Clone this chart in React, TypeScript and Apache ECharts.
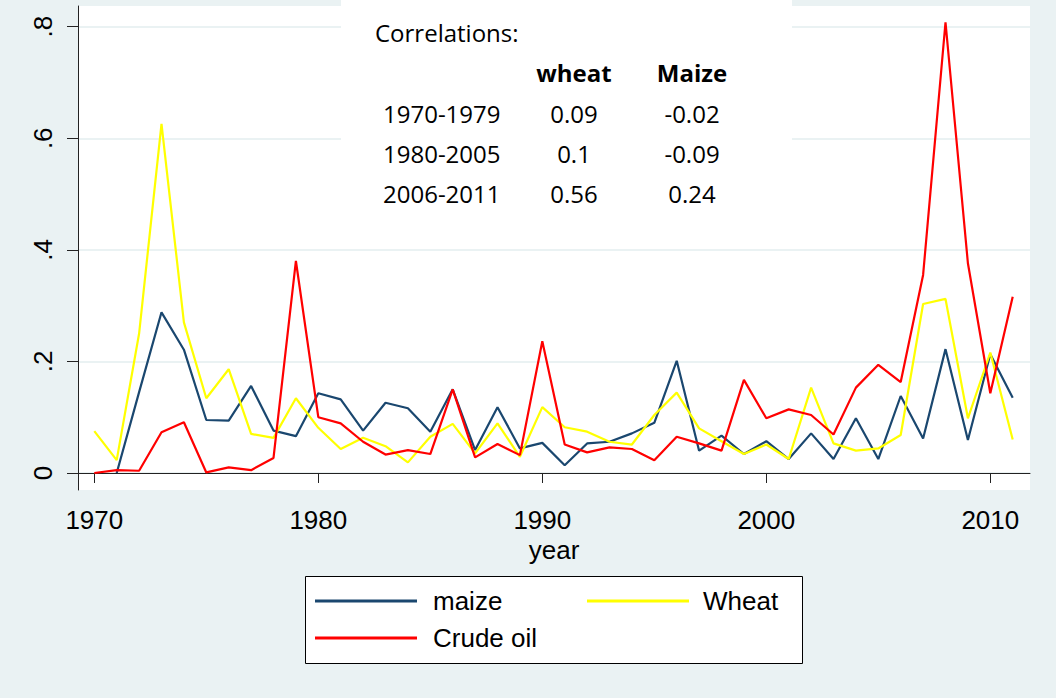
import React, { useEffect, useRef } from "react";
import * as echarts from "echarts";

const years: number[] = [
  1970, 1971, 1972, 1973, 1974, 1975, 1976, 1977, 1978, 1979,
  1980, 1981, 1982, 1983, 1984, 1985, 1986, 1987, 1988, 1989,
  1990, 1991, 1992, 1993, 1994, 1995, 1996, 1997, 1998, 1999,
  2000, 2001, 2002, 2003, 2004, 2005, 2006, 2007, 2008, 2009,
  2010, 2011,
];

const maize: (number | null)[] = [
  null, 0.0, 0.145, 0.288, 0.221, 0.095, 0.094, 0.156, 0.076, 0.066,
  0.143, 0.132, 0.076, 0.126, 0.116, 0.074, 0.15, 0.041, 0.118, 0.044,
  0.054, 0.014, 0.053, 0.056, 0.071, 0.09, 0.201, 0.04, 0.067, 0.034,
  0.057, 0.025, 0.071, 0.025, 0.098, 0.025, 0.138, 0.062, 0.222, 0.059,
  0.213, 0.135,
];

const wheat: number[] = [
  0.075, 0.023, 0.25, 0.626, 0.27, 0.134, 0.186, 0.07, 0.063, 0.134,
  0.081, 0.043, 0.063, 0.048, 0.019, 0.065, 0.088, 0.035, 0.089, 0.029,
  0.118, 0.082, 0.074, 0.056, 0.051, 0.104, 0.144, 0.08, 0.057, 0.034,
  0.051, 0.025, 0.153, 0.053, 0.04, 0.044, 0.068, 0.303, 0.312, 0.098,
  0.216, 0.06,
];

const crudeOil: number[] = [
  0.0, 0.005, 0.004, 0.073, 0.091, 0.001, 0.01, 0.005, 0.027, 0.38,
  0.1, 0.089, 0.056, 0.033, 0.041, 0.034, 0.15, 0.028, 0.052, 0.032,
  0.236, 0.051, 0.037, 0.046, 0.043, 0.023, 0.065, 0.053, 0.04, 0.167,
  0.098, 0.114, 0.104, 0.069, 0.153, 0.194, 0.163, 0.355, 0.808, 0.376,
  0.143, 0.316,
];

const xTicks: number[] = [1970, 1980, 1990, 2000, 2010];
const yTicks: number[] = [0, 0.2, 0.4, 0.6, 0.8];
const yTickLabels: string[] = ["0", ".2", ".4", ".6", ".8"];

const corrTitle = "Correlations:";
const corrHeaders: string[] = ["wheat", "Maize"];
const corrPeriods: string[] = ["1970-1979", "1980-2005", "2006-2011"];
const corrWheat: string[] = ["0.09", "0.1", "0.56"];
const corrMaize: string[] = ["-0.02", "-0.09", "0.24"];

const BG = "#eaf2f3";
const NAVY = "#1a476f";
const YELLOW = "#ffff00";
const RED = "#ff0000";
const SANS = "'Liberation Sans', Arial, sans-serif";
const CORR_FONT = "'Open Sans', 'Noto Sans', sans-serif";

export default function App() {
  const ref = useRef<HTMLDivElement>(null);

  useEffect(() => {
    if (!ref.current) return;
    const chart = echarts.init(ref.current, null, { renderer: "svg" });

    const pair = (arr: (number | null)[]) =>
      years.map((y, i) => [y, arr[i] === null ? "-" : arr[i]]);

    const rowY = [113, 153, 193];
    const corrTexts: any[] = [];
    corrTexts.push({
      type: "text",
      x: 375,
      y: 32,
      z: 101,
      style: { text: corrTitle, fill: "#000", font: `24px ${CORR_FONT}`, align: "left", verticalAlign: "middle" },
    });
    corrHeaders.forEach((h, i) => {
      corrTexts.push({
        type: "text",
        x: i === 0 ? 574 : 692,
        y: 72,
        z: 101,
        style: { text: h, fill: "#000", font: `bold 24px ${CORR_FONT}`, align: "center", verticalAlign: "middle" },
      });
    });
    corrPeriods.forEach((p, i) => {
      corrTexts.push({
        type: "text",
        x: 383,
        y: rowY[i],
        z: 101,
        style: { text: p, fill: "#000", font: `24px ${CORR_FONT}`, align: "left", verticalAlign: "middle" },
      });
      corrTexts.push({
        type: "text",
        x: 574,
        y: rowY[i],
        z: 101,
        style: { text: corrWheat[i], fill: "#000", font: `24px ${CORR_FONT}`, align: "center", verticalAlign: "middle" },
      });
      corrTexts.push({
        type: "text",
        x: 692,
        y: rowY[i],
        z: 101,
        style: { text: corrMaize[i], fill: "#000", font: `24px ${CORR_FONT}`, align: "center", verticalAlign: "middle" },
      });
    });

    const legendText = (pad: number) => ({
      color: "#000",
      fontSize: 26,
      fontFamily: SANS,
      padding: [0, 0, 0, pad],
    });

    chart.setOption({
      animation: false,
      backgroundColor: BG,
      grid: {
        left: 78,
        top: 6,
        width: 952,
        height: 484,
        show: true,
        backgroundColor: "#ffffff",
        borderWidth: 0,
      },
      xAxis: {
        type: "value",
        min: 1969.272,
        max: 2011.772,
        name: "year",
        nameLocation: "middle",
        nameGap: 50,
        nameMoveOverlap: false,
        nameTextStyle: { color: "#000", fontSize: 26, lineHeight: 20, fontFamily: SANS },
        axisLine: { show: true, lineStyle: { color: "#222", width: 1 } },
        axisTick: { show: true, length: 10, customValues: xTicks, lineStyle: { color: "#222" } },
        axisLabel: {
          customValues: xTicks,
          margin: 20,
          color: "#000",
          fontSize: 26,
          lineHeight: 20,
          fontFamily: SANS,
          formatter: (v: number) => String(v),
        },
        splitLine: { show: false },
      },
      yAxis: {
        type: "value",
        min: -0.0305,
        max: 0.8371,
        axisLine: { show: true, lineStyle: { color: "#222", width: 1 } },
        axisTick: { show: true, length: 11, customValues: yTicks, lineStyle: { color: "#222" } },
        axisLabel: {
          customValues: yTicks,
          rotate: 90,
          margin: 22,
          color: "#000",
          fontSize: 26,
          fontFamily: SANS,
          formatter: (v: number) => {
            const idx = yTicks.findIndex((t) => Math.abs(t - v) < 1e-6);
            return idx >= 0 ? yTickLabels[idx] : "";
          },
        },
        splitLine: { show: true, lineStyle: { color: BG, width: 2 } },
      },
      legend: [
        {
          data: ["maize"],
          left: 315,
          top: 588,
          padding: 0,
          icon: "rect",
          itemWidth: 102,
          itemHeight: 3,
          textStyle: legendText(11),
        },
        {
          data: ["Wheat"],
          left: 587,
          top: 588,
          padding: 0,
          icon: "rect",
          itemWidth: 102,
          itemHeight: 3,
          textStyle: legendText(9),
        },
        {
          data: ["Crude oil"],
          left: 315,
          top: 625,
          padding: 0,
          icon: "rect",
          itemWidth: 102,
          itemHeight: 3,
          textStyle: legendText(11),
        },
      ],
      series: [
        {
          name: "maize",
          type: "line",
          data: pair(maize),
          symbol: "none",
          color: NAVY,
          lineStyle: { color: NAVY, width: 2.2 },
          connectNulls: false,
        },
        {
          name: "Wheat",
          type: "line",
          data: pair(wheat),
          symbol: "none",
          color: YELLOW,
          lineStyle: { color: YELLOW, width: 2.2 },
        },
        {
          name: "Crude oil",
          type: "line",
          data: pair(crudeOil),
          symbol: "none",
          color: RED,
          lineStyle: { color: RED, width: 2.2 },
        },
      ],
      graphic: [
        {
          type: "rect",
          z: 100,
          shape: { x: 341, y: 0, width: 451, height: 240 },
          style: { fill: "#ffffff", stroke: "none" },
        },
        ...corrTexts,
        {
          type: "rect",
          z: -1,
          silent: true,
          shape: { x: 305.5, y: 576.5, width: 497, height: 87 },
          style: { fill: "#ffffff", stroke: "#000", lineWidth: 1 },
        },
      ],
    });

    return () => chart.dispose();
  }, []);

  return (
    <div
      ref={ref}
      style={{ position: "absolute", left: 0, top: 0, width: 1056, height: 698 }}
    />
  );
}
